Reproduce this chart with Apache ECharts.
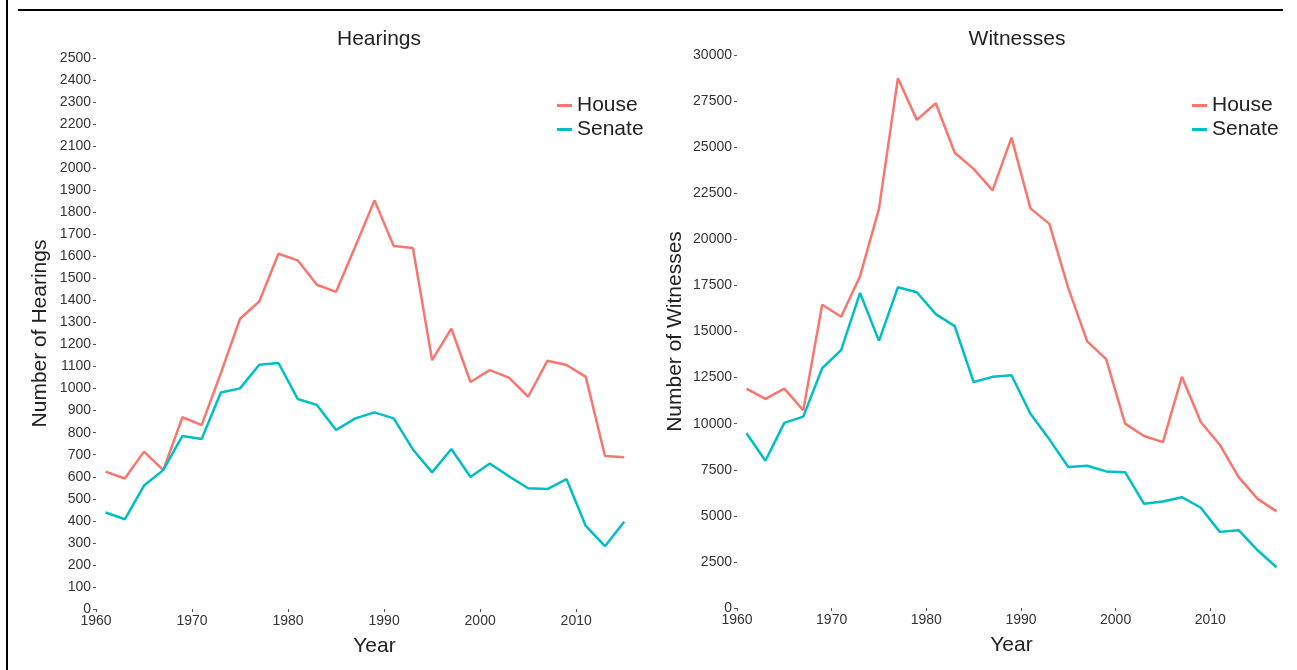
<!DOCTYPE html>
<html>
<head>
<meta charset="utf-8">
<script src="https://cdn.jsdelivr.net/npm/echarts@6/dist/echarts.min.js"></script>
<style>
  html, body { margin: 0; padding: 0; background: #fff; }
  #main { width: 1297px; height: 670px; }
</style>
</head>
<body>
<div id="main"></div>
<script>
// 数据：每届国会（两年）一个点
var hearingYears = [1961, 1963, 1965, 1967, 1969, 1971, 1973, 1975, 1977, 1979, 1981, 1983, 1985, 1987,
    1989, 1991, 1993, 1995, 1997, 1999, 2001, 2003, 2005, 2007, 2009, 2011, 2013, 2015];
var hearingsHouse = [623, 592, 714, 630, 870, 834, 1070, 1317, 1395, 1612, 1582, 1471, 1439, 1645,
    1854, 1647, 1638, 1129, 1272, 1030, 1084, 1050, 963, 1126, 1107, 1053, 694, 689];
var hearingsSenate = [438, 407, 560, 630, 785, 771, 982, 1001, 1108, 1116, 953, 926, 812, 865,
    892, 865, 724, 620, 726, 599, 660, 602, 548, 544, 589, 377, 285, 396];

var witnessYears = [1961, 1963, 1965, 1967, 1969, 1971, 1973, 1975, 1977, 1979, 1981, 1983, 1985, 1987,
    1989, 1991, 1993, 1995, 1997, 1999, 2001, 2003, 2005, 2007, 2009, 2011, 2013, 2015, 2017];
var witnessesHouse = [11900, 11340, 11900, 10720, 16450, 15800, 18000, 21650, 28740, 26480, 27380, 24700, 23820, 22660,
    25520, 21680, 20840, 17350, 14460, 13500, 10000, 9330, 9000, 12540, 10090, 8860, 7100, 5920, 5240];
var witnessesSenate = [9480, 7990, 10040, 10380, 13010, 13990, 17090, 14490, 17400, 17130, 15940, 15290, 12260, 12540,
    12630, 10540, 9150, 7650, 7720, 7410, 7370, 5650, 5780, 6010, 5440, 4130, 4220, 3130, 2210];

var yearTicks = [1960, 1970, 1980, 1990, 2000, 2010];

var houseColor = '#F8766D';
var senateColor = '#00BFC4';

function pairs(xs, ys) {
    return xs.map(function (x, i) { return [x, ys[i]]; });
}

var myChart = echarts.init(document.getElementById('main'));

var tickLabel = { color: '#333', fontSize: 14, fontFamily: 'Liberation Sans',
    formatter: function (v) { return String(v); } };
var nameStyle = { color: '#222', fontSize: 21, fontFamily: 'Liberation Sans' };

function xAxisFor(gridIndex) {
    return {
        type: 'value', gridIndex: gridIndex, min: 1960, max: 2018, interval: 10,
        name: 'Year', nameLocation: 'middle', nameGap: 27, nameTextStyle: nameStyle,
        axisLine: { show: false },
        axisTick: { show: true, length: 3, lineStyle: { color: '#555' }, customValues: yearTicks },
        axisLabel: Object.assign({ margin: 5, customValues: yearTicks }, tickLabel),
        splitLine: { show: false }
    };
}

function yAxisFor(gridIndex, max, interval, name, gap) {
    return {
        type: 'value', gridIndex: gridIndex, min: 0, max: max, interval: interval,
        name: name, nameLocation: 'middle', nameGap: gap, nameTextStyle: nameStyle,
        axisLine: { show: false },
        axisTick: { show: true, length: 3, lineStyle: { color: '#555' } },
        axisLabel: Object.assign({ margin: 5 }, tickLabel),
        splitLine: { show: false }
    };
}

function legendFor(left) {
    return {
        orient: 'vertical', left: left, top: 90, itemGap: 3,
        icon: 'rect', itemWidth: 15, itemHeight: 3,
        textStyle: { color: '#222', fontSize: 21, fontFamily: 'Liberation Sans' },
        data: ['House', 'Senate']
    };
}

function lineSeries(name, color, xi, yi, data) {
    return {
        name: name, type: 'line', xAxisIndex: xi, yAxisIndex: yi,
        showSymbol: false, symbol: 'none',
        lineStyle: { color: color, width: 2.5 },
        itemStyle: { color: color },
        data: data
    };
}

var titleStyle = { color: '#222', fontSize: 21, fontWeight: 'normal', fontFamily: 'Liberation Sans' };

var option = {
    backgroundColor: '#fff',
    animation: false,
    title: [
        { text: 'Hearings', left: 374, top: 24, textAlign: 'center', textStyle: titleStyle },
        { text: 'Witnesses', left: 1012, top: 24, textAlign: 'center', textStyle: titleStyle }
    ],
    legend: [legendFor(552), legendFor(1187)],
    grid: [
        { left: 96, top: 58, width: 557, height: 551 },
        { left: 737, top: 55, width: 549, height: 553 }
    ],
    xAxis: [xAxisFor(0), xAxisFor(1)],
    yAxis: [
        yAxisFor(0, 2500, 100, 'Number of Hearings', 45),
        yAxisFor(1, 30000, 2500, 'Number of Witnesses', 51)
    ],
    series: [
        lineSeries('House', houseColor, 0, 0, pairs(hearingYears, hearingsHouse)),
        lineSeries('Senate', senateColor, 0, 0, pairs(hearingYears, hearingsSenate)),
        lineSeries('House', houseColor, 1, 1, pairs(witnessYears, witnessesHouse)),
        lineSeries('Senate', senateColor, 1, 1, pairs(witnessYears, witnessesSenate))
    ],
    graphic: [
        { type: 'line', shape: { x1: 18, y1: 10, x2: 1283, y2: 10 }, style: { stroke: '#000', lineWidth: 2 } },
        { type: 'line', shape: { x1: 7, y1: 0, x2: 7, y2: 670 }, style: { stroke: '#000', lineWidth: 2 } }
    ]
};
myChart.setOption(option);
</script>
</body>
</html>
